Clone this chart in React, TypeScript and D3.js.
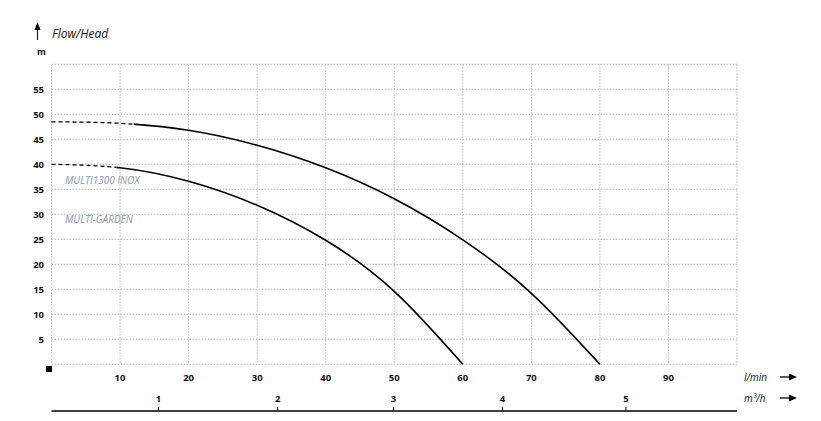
import React from "react";
import * as d3 from "d3";

const flowTicks = [10, 20, 30, 40, 50, 60, 70, 80, 90];
const gridX = [0, 10, 20, 30, 40, 50, 60, 70, 80, 90, 100];
const headTicks = [5, 10, 15, 20, 25, 30, 35, 40, 45, 50, 55];
const gridY = [0, 5, 10, 15, 20, 25, 30, 35, 40, 45, 50, 55, 60];
const m3hLabels = ["1", "2", "3", "4", "5"];
const m3hTickFlow = [15.6, 33.0, 49.9, 65.8, 83.8];

const inoxFlow = [0, 10, 20, 30, 40, 50, 60, 70, 80];
const inoxHead = [48.5, 48.2, 46.8, 43.8, 39.3, 33.1, 24.9, 14.2, 0];
const inoxDashEnd = 12;
const gardenFlow = [0, 10, 20, 30, 40, 50, 60];
const gardenHead = [40, 39.3, 36.6, 31.8, 24.8, 14.6, 0];
const gardenDashEnd = 9.5;

const seriesLabels = ["MULTI1300 INOX", "MULTI-GARDEN"];

const W = 821;
const H = 421;
const FONT = "'Open Sans', 'Noto Sans', sans-serif";

export default function App() {
  const x = d3.scaleLinear().domain([0, 100]).range([51.5, 737]);
  const y = d3.scaleLinear().domain([0, 60]).range([364.3, 64.3]);
  const line = d3
    .line<[number, number]>()
    .x((d) => x(d[0]))
    .y((d) => y(d[1]))
    .curve(d3.curveNatural);

  const series = [
    { pts: inoxFlow.map((f, i) => [f, inoxHead[i]] as [number, number]), end: inoxDashEnd },
    { pts: gardenFlow.map((f, i) => [f, gardenHead[i]] as [number, number]), end: gardenDashEnd },
  ];

  const grid = "#b8b8b8";

  return (
    <svg width={W} height={H} style={{ position: "absolute", left: 0, top: 0, background: "#fff" }}>
      <defs>
        {series.map((s, i) => (
          <React.Fragment key={"c" + i}>
            <clipPath id={"dash" + i}>
              <rect x={0} y={0} width={x(s.end)} height={H} />
            </clipPath>
            <clipPath id={"solid" + i}>
              <rect x={x(s.end)} y={0} width={W} height={H} />
            </clipPath>
          </React.Fragment>
        ))}
      </defs>
      <rect width={W} height={H} fill="#fff" />
      {gridX.map((v) => (
        <line key={"gx" + v} x1={x(v)} x2={x(v)} y1={y(60)} y2={y(0)} stroke={grid} strokeWidth={1} strokeDasharray="1.5,1.5" />
      ))}
      {gridY.map((v) => (
        <line key={"gy" + v} x1={x(0)} x2={x(100)} y1={y(v)} y2={y(v)} stroke={grid} strokeWidth={1} strokeDasharray="1.5,1.5" />
      ))}
      {headTicks.map((v) => (
        <text key={"ht" + v} x={44} y={y(v) + 3.5} textAnchor="end" fontFamily={FONT} fontSize={9.5} fontWeight="bold" fill="#111">
          {v}
        </text>
      ))}
      {flowTicks.map((v) => (
        <text key={"ft" + v} x={x(v)} y={381} textAnchor="middle" fontFamily={FONT} fontSize={9.5} fontWeight="bold" fill="#111">
          {v}
        </text>
      ))}
      <rect x={46} y={366} width={6} height={6} fill="#000" />
      <text x={37} y={55} fontFamily={FONT} fontSize={9} fontWeight="bold" fill="#111">m</text>
      <text x={52} y={38} fontFamily={FONT} fontSize={12} fontStyle="italic" fill="#111">Flow/Head</text>
      <line x1={37.5} x2={37.5} y1={27} y2={40} stroke="#222" strokeWidth={1.2} />
      <path d="M34.5,30 L37.5,22 L40.5,30 Z" fill="#000" />
      <text x={744} y={381} fontFamily={FONT} fontSize={10} fontStyle="italic" fill="#111">l/min</text>
      <line x1={780} x2={790} y1={377} y2={377} stroke="#000" strokeWidth={1.3} />
      <path d="M789,373.5 L797,377 L789,380.5 Z" fill="#000" />
      <text x={744} y={402} fontFamily={FONT} fontSize={10} fontStyle="italic" fill="#111">m³/h</text>
      <line x1={780} x2={790} y1={398} y2={398} stroke="#000" strokeWidth={1.3} />
      <path d="M789,394.5 L797,398 L789,401.5 Z" fill="#000" />
      <line x1={x(0)} x2={x(100)} y1={411} y2={411} stroke="#000" strokeWidth={1.5} />
      {m3hLabels.map((l, i) => (
        <g key={"m" + l}>
          <line x1={x(m3hTickFlow[i])} x2={x(m3hTickFlow[i])} y1={407} y2={411} stroke="#000" strokeWidth={1} />
          <text x={x(m3hTickFlow[i])} y={402} textAnchor="middle" fontFamily={FONT} fontSize={9.5} fontWeight="bold" fill="#111">
            {l}
          </text>
        </g>
      ))}
      {series.map((s, i) => (
        <g key={"s" + i}>
          <path d={line(s.pts) || ""} fill="none" stroke="#000" strokeWidth={1.3} strokeDasharray="4,3" clipPath={`url(#dash${i})`} />
          <path d={line(s.pts) || ""} fill="none" stroke="#000" strokeWidth={1.6} clipPath={`url(#solid${i})`} />
        </g>
      ))}
      <text x={65} y={184} fontFamily={FONT} fontSize={10} fontStyle="italic" fill="#8d95a5">{seriesLabels[0]}</text>
      <text x={65} y={223} fontFamily={FONT} fontSize={10} fontStyle="italic" fill="#8d95a5">{seriesLabels[1]}</text>
    </svg>
  );
}
